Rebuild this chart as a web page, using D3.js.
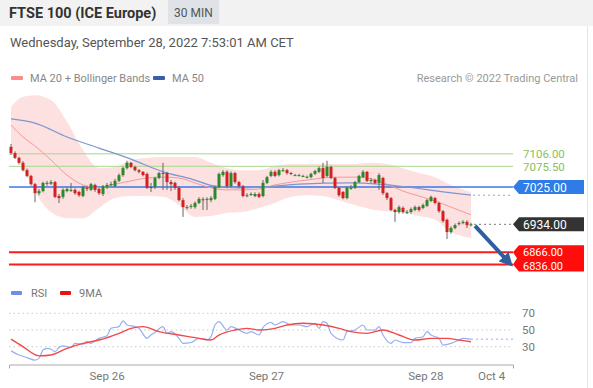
<!DOCTYPE html>
<html>
<head>
<meta charset="utf-8">
<script src="https://cdn.jsdelivr.net/npm/d3@7"></script>
<style>
  body { margin: 0; background: #fff; }
  svg { display: block; font-family: Roboto, "Liberation Sans", sans-serif; }
</style>
</head>
<body>
<svg id="chart" width="593" height="388"></svg>
<script>
// 30 min candles, Fri Sep 23 09:00 -> Wed Sep 28 06:30 (index 0..115)
var opens  = [7123,7108,7096,7084,7066,7052,7032,7010,7015,7033,7033,7037,7003,7001,7015,7018,7018,7013,7003,7023,7018,7030,7020,7008,
              7025,7032,7027,7040,7054,7071,7084,7074,7066,7062,7057,7025,7025,7047,7059,7059,7037,7035,7023,6993,6976,6977,6976,6986,6995,6994,6993,6996,7025,7054,7062,7027,7059,7037,7027,7005,7008,7003,7008,7003,
              7035,7052,7062,7054,7066,7066,7059,7054,7054,7052,7049,7049,7057,7062,7071,7052,7074,7047,7023,7013,6998,7023,7023,7037,7049,7062,7040,7042,7035,7047,7010,6998,6969,6964,6974,6964,6964,6969,6976,6974,
              6979,6991,6998,6986,6966,6945,6915,6925,6935,6937,6940,6933];
var highs  = [7130,7112,7099,7088,7070,7055,7035,7020,7038,7040,7042,7040,7008,7022,7025,7035,7022,7016,7028,7028,7035,7033,7023,7030,
              7035,7038,7045,7058,7075,7089,7086,7077,7069,7064,7060,7035,7050,7062,7084,7062,7042,7038,7027,6998,6981,6984,6990,7000,7000,7000,7003,7028,7060,7066,7066,7063,7062,7040,7030,7010,7012,7012,7012,7042,
              7052,7066,7066,7069,7071,7069,7062,7057,7057,7055,7053,7060,7067,7075,7084,7089,7077,7050,7025,7015,7027,7030,7040,7055,7066,7064,7047,7045,7059,7050,7013,7001,6972,6980,6978,6969,6975,6980,6979,6985,
              6996,7004,7001,6989,6969,6948,6929,6936,6941,6944,6944,6938];
var lows   = [7103,7093,7080,7063,7049,7028,6988,7005,7012,7028,7030,6998,6986,6996,7012,7013,7006,7001,7000,7015,7015,7013,7006,7003,
              7020,7027,7024,7037,7050,7068,7071,7063,7058,7051,7020,7013,7020,7044,7018,7018,7015,7018,6990,6952,6970,6972,6972,6983,6969,6969,6988,6993,7022,7050,7022,7024,7033,7023,7000,7000,7003,7000,6998,7000,
              7032,7049,7049,7051,7062,7055,7054,7052,7051,7049,7046,7046,7054,7059,7035,7049,7044,7020,7001,6995,6995,7018,7020,7035,7047,7037,7035,7032,7018,7006,6993,6966,6940,6960,6960,6959,6960,6966,6965,6971,
              6976,6988,6983,6962,6938,6898,6911,6922,6931,6934,6925,6929];
var closes = [7108,7096,7084,7066,7052,7032,7010,7015,7035,7035,7037,7001,6998,7018,7020,7018,7010,7005,7025,7022,7032,7018,7010,7027,
              7030,7032,7040,7054,7071,7084,7074,7066,7062,7054,7023,7023,7047,7059,7058,7037,7032,7023,6993,6976,6976,6979,6986,6996,6993,6996,6998,7025,7057,7062,7027,7059,7037,7027,7003,7005,7008,7008,7001,7035,
              7049,7062,7052,7066,7066,7059,7057,7054,7054,7052,7050,7057,7064,7071,7047,7074,7047,7023,7005,6998,7023,7023,7037,7052,7062,7040,7042,7035,7054,7010,6998,6969,6964,6976,6964,6964,6971,6976,6969,6981,
              6993,7001,6986,6966,6942,6915,6925,6932,6937,6940,6932,6934];

// MA 20 + Bollinger bands, MA 50 (read at these candle indices)
var bandIdx = [0,3,6,10,14,18,22,26,30,34,38,42,46,50,54,58,62,66,70,74,78,82,86,90,94,98,102,106,110,115];
var bandUp  = [7220,7245,7249,7237,7184,7115,7071,7074,7091,7096,7098,7098,7098,7084,7071,7066,7066,7076,7081,7081,7081,7081,7081,7084,7081,7071,7059,7049,7030,7013];
var ma20    = [7176,7147,7125,7091,7054,7030,7023,7032,7040,7047,7049,7047,7035,7023,7018,7018,7020,7030,7037,7042,7047,7049,7049,7045,7032,7015,7003,6991,6976,6957];
var bandLo  = [7127,7071,7013,6964,6949,6949,6974,6998,7003,7003,7001,6981,6952,6954,6962,6964,6974,6986,7001,7005,7003,6993,6981,6971,6966,6962,6954,6945,6915,6901];
var ma50Idx = [0,6,14,22,30,38,45,51,57,63,72,85,92,99,108,115];
var ma50    = [7191,7181,7147,7120,7093,7062,7045,7027,7023,7025,7032,7035,7032,7025,7013,7005];

// RSI and its 9 period MA
var rsiIdx = [0,2,4,6,7,8,9,10,11,12,13,15,16,18,19,20,22,24,25,27,28,29,31,32,34,35,36,38,39,40,42,43,45,47,49,50,51,52,54,55,57,59,60,62,63,65,66,68,70,72,74,75,76,77,78,79,80,83,84,86,88,89,91,92,93,95,96,98,100,101,103,104,105,107,108,110,112,113,115];
var rsi    = [25,20,17,14,16,26,28,27,24,29,31,29,34,33,36,34,40,43,52,54,61,56,54,52,40,44,47,54,46,48,40,34,35,40,38,42,56,60,50,54,50,46,48,44,53,59,56,60,56,56,54,56,58,52,60,58,46,38,48,50,56,50,50,54,44,34,38,35,35,40,42,48,44,40,32,34,38,40,39];
var maIdx  = [0,3,7,10,14,18,22,27,30,33,37,42,47,50,52,56,59,62,66,69,73,78,82,85,89,93,97,101,105,109,112,115];
var rsiMa  = [39,30,19,20,28,34,38,46,52,54,48,44,40,38,44,50,52,50,52,56,58,56,52,48,46,50,44,38,40,40,38,36];

var levels = [7106, 7075.5, 7025, 6866, 6836];
var lastPrice = 6934;
var rsiTicks = [70, 50, 30];
var dateTicks = [24, 64, 104, 120.5];
var dateLabels = ["Sep 26", "Sep 27", "Sep 28", "Oct 4"];

var svg = d3.select("#chart");

var x = d3.scaleLinear().domain([-0.5, 125]).range([9, 511]);
var y = d3.scaleLinear().domain([6836, 7106]).range([264.5, 153.8]);
var ry = d3.scaleLinear().domain([30, 70]).range([346.7, 313.3]);

// header
svg.append("rect").attr("x", 0).attr("y", 0).attr("width", 593).attr("height", 26).attr("fill", "#f2f2f2");
svg.append("rect").attr("x", 168).attr("y", 0).attr("width", 51).attr("height", 24).attr("fill", "#dfe3e8");
svg.append("text").attr("x", 9).attr("y", 18).attr("font-size", 14.5).attr("font-weight", "bold").attr("fill", "#333")
    .text("FTSE 100 (ICE Europe)");
svg.append("text").attr("x", 193.5).attr("y", 17).attr("text-anchor", "middle").attr("font-size", 12).attr("fill", "#555")
    .text("30 MIN");
svg.append("text").attr("x", 10).attr("y", 47).attr("font-size", 13).attr("fill", "#555")
    .text("Wednesday, September 28, 2022 7:53:01 AM CET");
svg.append("line").attr("x1", 587.5).attr("x2", 587.5).attr("y1", 26).attr("y2", 388).attr("stroke", "#e6e6e6");

// legend
svg.append("rect").attr("x", 11).attr("y", 76).attr("width", 12).attr("height", 4).attr("rx", 1).attr("fill", "#ff8c8c");
svg.append("text").attr("x", 30).attr("y", 82).attr("font-size", 11).attr("fill", "#888").text("MA 20 + Bollinger Bands");
svg.append("rect").attr("x", 153).attr("y", 76).attr("width", 12).attr("height", 4).attr("rx", 1).attr("fill", "#3a5fa8");
svg.append("text").attr("x", 172).attr("y", 82).attr("font-size", 11).attr("fill", "#888").text("MA 50");
svg.append("text").attr("x", 578).attr("y", 82).attr("text-anchor", "end").attr("font-size", 11).attr("fill", "#999")
    .text("Research \u00a9 2022 Trading Central");

// bollinger band
var band = bandIdx.map(function(d, i) { return {i: d, up: bandUp[i], lo: bandLo[i], ma: ma20[i]}; });
svg.append("path").datum(band)
    .attr("fill", "#fde0e0")
    .attr("d", d3.area().curve(d3.curveMonotoneX)
      .x(function(d) { return x(d.i); })
      .y0(function(d) { return y(d.lo); })
      .y1(function(d) { return y(d.up); }));

// levels
var levelColor = ["#a9d88b", "#a9d88b", "#3b78e7", "#ff1a1a", "#ff1a1a"];
svg.selectAll(".lvl").data(levels).enter().append("line")
    .attr("x1", 9).attr("x2", 513)
    .attr("y1", function(d) { return y(d); }).attr("y2", function(d) { return y(d); })
    .attr("stroke", function(d, i) { return levelColor[i]; })
    .attr("stroke-width", function(d, i) { return i > 2 ? 2 : (i == 2 ? 1.5 : 1); });

svg.append("path").datum(band)
    .attr("fill", "none").attr("stroke", "#f59a9a").attr("stroke-width", 1)
    .attr("d", d3.line().curve(d3.curveMonotoneX)
      .x(function(d) { return x(d.i); })
      .y(function(d) { return y(d.ma); }));

var m50 = ma50Idx.map(function(d, i) { return {i: d, v: ma50[i]}; });
svg.append("path").datum(m50)
    .attr("fill", "none").attr("stroke", "#7d97d0").attr("stroke-width", 1.2)
    .attr("d", d3.line().curve(d3.curveMonotoneX)
      .x(function(d) { return x(d.i); })
      .y(function(d) { return y(d.v); }));
svg.append("line")
    .attr("x1", x(115) + 2).attr("x2", 513)
    .attr("y1", y(ma50[ma50.length - 1])).attr("y2", y(ma50[ma50.length - 1]))
    .attr("stroke", "#8fa8dd").attr("stroke-dasharray", "2,3");

// candles
var candle = svg.selectAll(".candle")
    .data(closes.map(function(c, i) { return {i: i, o: opens[i], h: highs[i], l: lows[i], c: c}; }))
  .enter().append("g")
    .attr("class", "candle");

candle.append("line")
    .attr("x1", function(d) { return x(d.i); }).attr("x2", function(d) { return x(d.i); })
    .attr("y1", function(d) { return y(d.h); }).attr("y2", function(d) { return y(d.l); })
    .attr("stroke", "#666").attr("stroke-width", 1);

candle.append("rect")
    .attr("x", function(d) { return x(d.i) - 1.5; })
    .attr("width", 3)
    .attr("y", function(d) { return y(Math.max(d.o, d.c)); })
    .attr("height", function(d) { return Math.max(1, Math.abs(y(d.o) - y(d.c))); })
    .attr("fill", function(d) { return d.c >= d.o ? "#2a8a2a" : "#d42020"; });

// last price dotted line
svg.append("line")
    .attr("x1", x(115) + 3).attr("x2", 513)
    .attr("y1", y(lastPrice)).attr("y2", y(lastPrice))
    .attr("stroke", "#777").attr("stroke-dasharray", "2,3");

// projection arrow
svg.append("defs").append("marker")
    .attr("id", "head").attr("viewBox", "0 0 10 10").attr("refX", 5).attr("refY", 5)
    .attr("markerWidth", 3.4).attr("markerHeight", 3.4).attr("orient", "auto")
  .append("path").attr("d", "M0,0L10,5L0,10z").attr("fill", "#2f5f9f");
svg.append("line")
    .attr("x1", x(116)).attr("y1", y(6930))
    .attr("x2", x(124.3)).attr("y2", y(6843))
    .attr("stroke", "#2f5f9f").attr("stroke-width", 4)
    .attr("marker-end", "url(#head)");

// price labels
function tag(yc, fill, label) {
  svg.append("path")
      .attr("d", "M513," + yc + "L519," + (yc - 7) + "L584," + (yc - 7) + "L584," + (yc + 7) + "L519," + (yc + 7) + "Z")
      .attr("fill", fill);
  svg.append("text").attr("x", 523).attr("y", yc + 4.5).attr("font-size", 12).attr("fill", "#fff").text(label);
}
svg.append("text").attr("x", 523).attr("y", y(levels[0]) + 4).attr("font-size", 11.5).attr("fill", "#8cc05a").text(levels[0].toFixed(2));
svg.append("text").attr("x", 523).attr("y", y(levels[1]) + 4.5).attr("font-size", 11.5).attr("fill", "#8cc05a").text(levels[1].toFixed(2));
tag(y(levels[2]), "#2f7be8", levels[2].toFixed(2));
tag(y(lastPrice), "#333", lastPrice.toFixed(2));
var ry1 = y(levels[3]), ry2 = y(levels[4]);
svg.append("path")
    .attr("d", "M513," + ry1 + "L519," + (ry1 - 7) + "L584," + (ry1 - 7) + "L584," + (ry2 + 7) + "L519," + (ry2 + 7) +
      "L513," + ry2 + "L517," + ((ry1 + ry2) / 2) + "Z")
    .attr("fill", "#ff0d0d");
svg.append("text").attr("x", 523).attr("y", ry1 + 3.5).attr("font-size", 11).attr("fill", "#fff").text(levels[3].toFixed(2));
svg.append("text").attr("x", 523).attr("y", ry2 + 5).attr("font-size", 11).attr("fill", "#fff").text(levels[4].toFixed(2));

// RSI panel
svg.append("rect").attr("x", 11).attr("y", 291).attr("width", 11).attr("height", 4).attr("rx", 1).attr("fill", "#6f8ee8");
svg.append("text").attr("x", 31).attr("y", 297).attr("font-size", 11).attr("fill", "#777").text("RSI");
svg.append("rect").attr("x", 60).attr("y", 291).attr("width", 11).attr("height", 4).attr("rx", 1).attr("fill", "#ee1111");
svg.append("text").attr("x", 79).attr("y", 297).attr("font-size", 11).attr("fill", "#777").text("9MA");

svg.selectAll(".rg").data(rsiTicks).enter().append("line")
    .attr("x1", 9).attr("x2", 513)
    .attr("y1", function(d) { return ry(d); }).attr("y2", function(d) { return ry(d); })
    .attr("stroke", "#c8c8c8").attr("stroke-dasharray", "1.5,3");
svg.selectAll(".rl").data(rsiTicks).enter().append("text")
    .attr("x", 522).attr("y", function(d) { return ry(d) + 4; })
    .attr("font-size", 11.5).attr("fill", "#777")
    .text(function(d) { return d; });

var rsiPts = rsiIdx.map(function(d, i) { return {i: d, v: rsi[i]}; });
var maPts = maIdx.map(function(d, i) { return {i: d, v: rsiMa[i]}; });
var rline = d3.line().curve(d3.curveMonotoneX)
    .x(function(d) { return x(d.i); })
    .y(function(d) { return ry(d.v); });
svg.append("path").datum(rsiPts).attr("fill", "none").attr("stroke", "#98afef").attr("stroke-width", 1.2).attr("d", rline);
svg.append("path").datum(maPts).attr("fill", "none").attr("stroke", "#f24a4a").attr("stroke-width", 1.4).attr("d", rline);
svg.append("line")
    .attr("x1", x(115)).attr("x2", 513)
    .attr("y1", ry(rsi[rsi.length - 1])).attr("y2", ry(rsi[rsi.length - 1]))
    .attr("stroke", "#98afef").attr("stroke-dasharray", "2,3");

var xAxis = d3.axisBottom(d3.scaleLinear().domain([-0.5, 126]).range([9, 513]))
    .tickValues(dateTicks)
    .tickSizeInner(0).tickSizeOuter(4).tickPadding(7)
    .tickFormat(function(d, i) { return dateLabels[i]; });
var ax = svg.append("g").attr("transform", "translate(0,364.5)").call(xAxis);
ax.select(".domain").attr("stroke", "#aaa");
ax.selectAll("text").attr("font-size", 11.5).attr("fill", "#777").attr("font-family", "Roboto, sans-serif");
</script>
</body>
</html>
